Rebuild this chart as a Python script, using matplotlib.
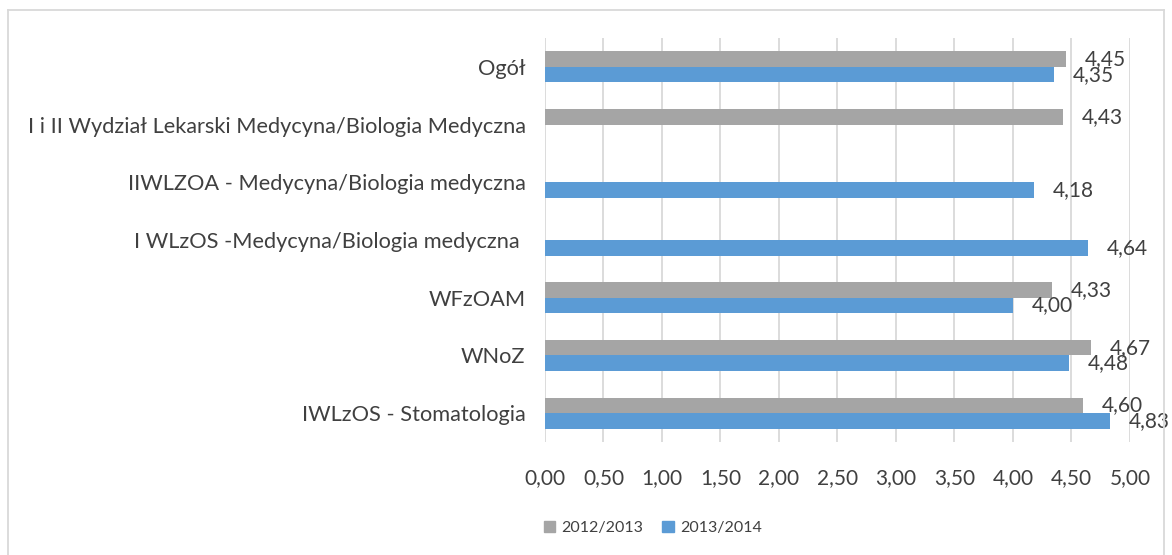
import numpy as np
import matplotlib
matplotlib.use('Agg')
import matplotlib.pyplot as plt
from matplotlib.lines import Line2D
from matplotlib.patches import Patch

# data (top to bottom as in the chart)
categories = ['Ogół',
              'I i II Wydział Lekarski Medycyna/Biologia Medyczna',
              'IIWLZOA - Medycyna/Biologia medyczna',
              'I WLzOS -Medycyna/Biologia medyczna ',
              'WFzOAM',
              'WNoZ',
              'IWLzOS - Stomatologia']
vals_2012 = [4.45, 4.43, None, None, 4.33, 4.67, 4.60]
vals_2013 = [4.35, None, 4.18, 4.64, 4.00, 4.48, 4.83]
series_names = ['2012/2013', '2013/2014']
xticks = [0, 0.5, 1, 1.5, 2, 2.5, 3, 3.5, 4, 4.5, 5]

grey = '#A5A5A5'
blue = '#5B9BD5'
txt = '#404040'
plt.rcParams['font.family'] = ['Lato', 'DejaVu Sans']

fig = plt.figure(figsize=(11.72, 5.55), dpi=100)
ax = fig.add_axes([0.465, 0.2036, 0.4991, 0.7279])

h = 0.27
for i in range(len(categories)):
    for vals, col, off in [(vals_2012, grey, -h / 2), (vals_2013, blue, h / 2)]:
        v = vals[i]
        if v is None:
            continue
        ax.barh(i + off, v, height=h, color=col, zorder=3)
        ax.annotate(f'{v:.2f}'.replace('.', ','), (v, i + off),
                    xytext=(13.5, 0), textcoords='offset points',
                    ha='left', va='center', fontsize=15, color=txt,
                    annotation_clip=False)

ax.set_xlim(0, 5)
ax.set_ylim(len(categories) - 0.5, -0.5)
ax.set_xticks(xticks)
ax.set_xticklabels([f'{t:.2f}'.replace('.', ',') for t in xticks],
                   fontsize=15, color=txt)
ax.set_yticks(range(len(categories)))
ax.set_yticklabels(categories, fontsize=15.7, color=txt)
ax.tick_params(axis='both', length=0)
ax.tick_params(axis='x', pad=19)
ax.tick_params(axis='y', pad=14)
ax.grid(axis='x', color='#D9D9D9', linewidth=1.3, zorder=0)
for s in ax.spines.values():
    s.set_visible(False)

handles = [Patch(color=grey), Patch(color=blue)]
fig.legend(handles, series_names, loc='center', ncol=2,
           bbox_to_anchor=(0.557, 0.049), frameon=False, fontsize=11.5,
           handlelength=0.7, handleheight=0.7, handletextpad=0.4,
           columnspacing=1.2, labelcolor=txt)

# chart frame
fc = '#D9D9D9'
fig.add_artist(Line2D([8 / 1172, 8 / 1172], [0, 1 - 10 / 555], color=fc, lw=1.3))
fig.add_artist(Line2D([8 / 1172, 1164 / 1172], [1 - 10 / 555, 1 - 10 / 555], color=fc, lw=1.3))
fig.add_artist(Line2D([1164 / 1172, 1164 / 1172], [0, 1 - 10 / 555], color=fc, lw=1.3))

fig.savefig('out.png', dpi=100)
